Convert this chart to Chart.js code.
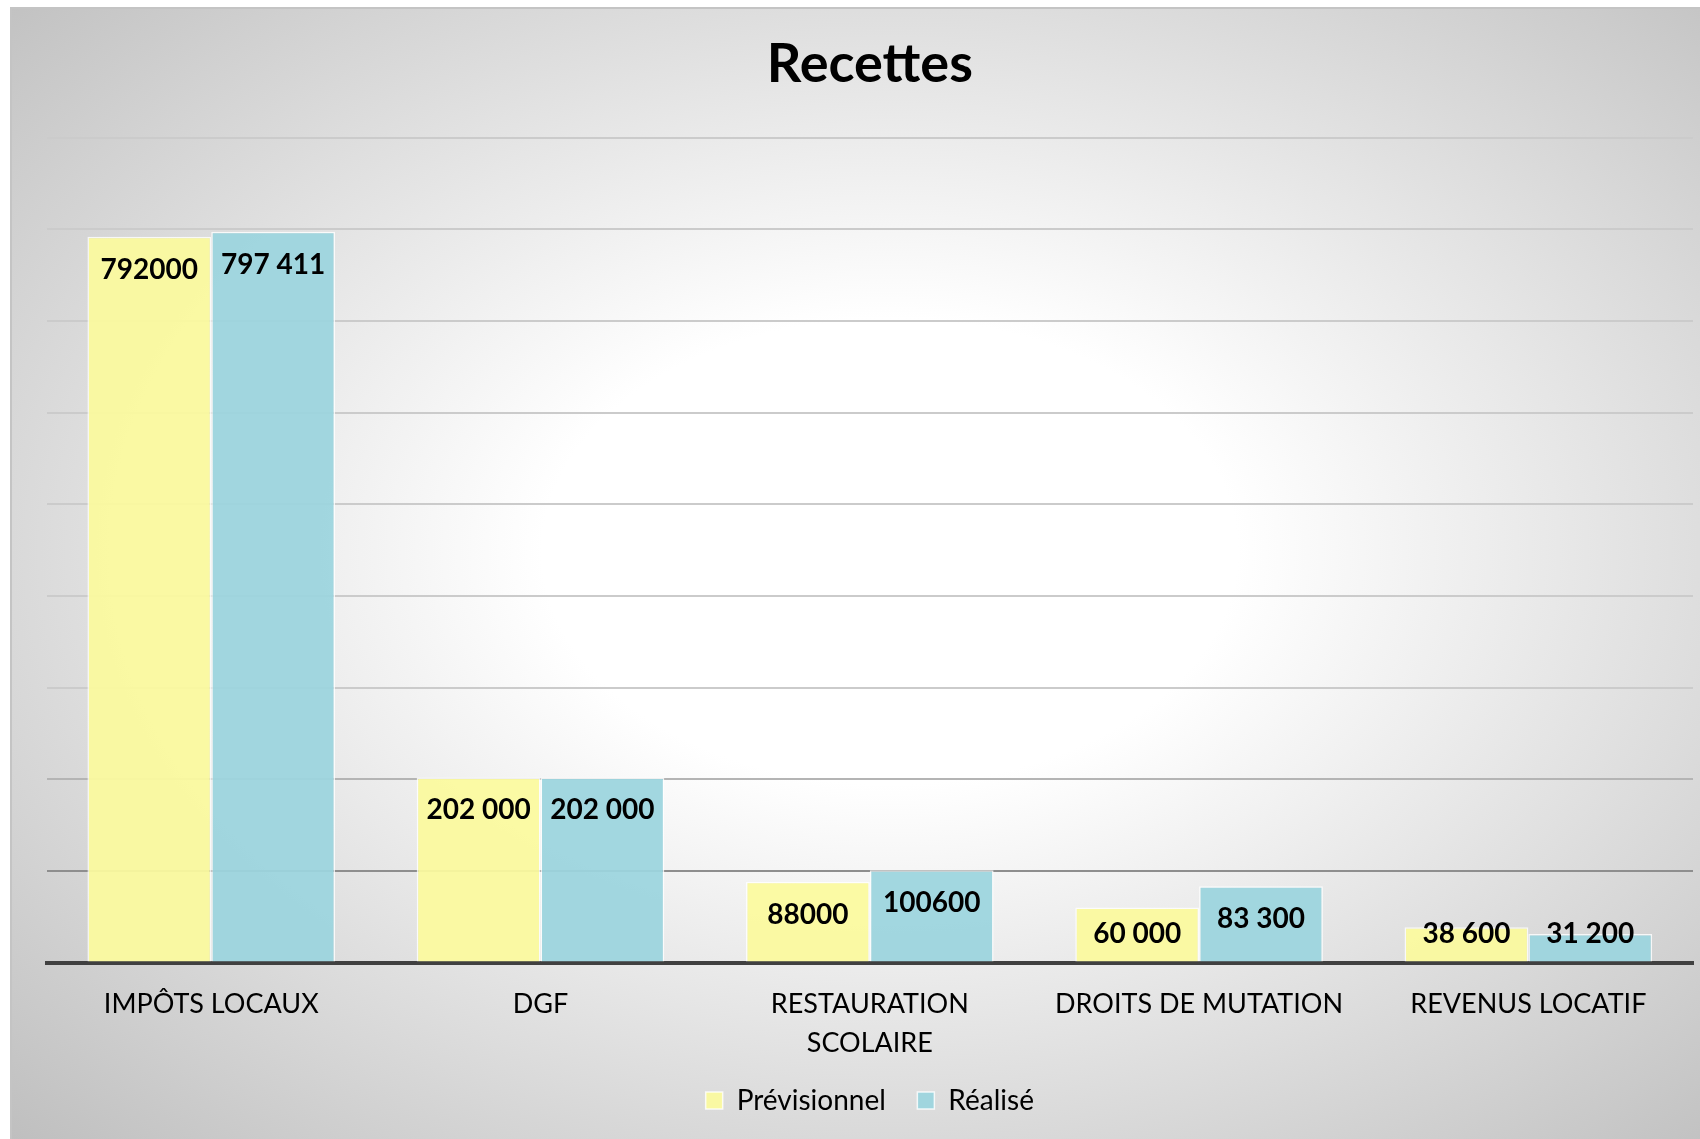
<!DOCTYPE html>
<html lang="fr">
<head>
<meta charset="utf-8">
<title>Recettes</title>
<script src="https://cdn.jsdelivr.net/npm/chart.js@4/dist/chart.umd.min.js"></script>
<style>
  html, body { margin: 0; padding: 0; background: #ffffff; }
  body { width: 1700px; height: 1139px; position: relative; overflow: hidden; }
  #frame {
    position: absolute; left: 10px; top: 7px; right: 0; bottom: 0;
    border-left: 2px solid #c4c4c4; border-top: 2px solid #c4c4c4;
    background: radial-gradient(ellipse farthest-corner at 52% 48%, #ffffff 0%, #ffffff 28%, #bfbfbf 100%);
  }
  #chart { position: absolute; left: 0; top: 0; }
</style>
</head>
<body>
<div id="frame"></div>
<canvas id="chart" width="1700" height="1139"></canvas>
<script>
// Categories and series
const categories = ['IMPÔTS LOCAUX', 'DGF', ['RESTAURATION', 'SCOLAIRE'], 'DROITS DE MUTATION', 'REVENUS LOCATIF'];
const previsionnel = [792000, 202000, 88000, 60000, 38600];
const realise = [797411, 202000, 100600, 83300, 31200];

// Whether each value label uses a thousands separator
const previsionnelSpaced = [false, true, false, true, true];
const realiseSpaced = [true, true, false, true, true];
const spacedBySeries = [previsionnelSpaced, realiseSpaced];

// Value axis
const yMax = 900000;
const yStep = 100000;

function formatValue(v, spaced) {
  const s = String(v);
  if (!spaced) return s;
  return s.replace(/\B(?=(\d{3})+(?!\d))/g, ' ');
}

Chart.defaults.font.family = 'Lato, "Open Sans", sans-serif';
Chart.defaults.color = '#000000';

// Value labels drawn inside the top of each bar
const valueLabels = {
  id: 'valueLabels',
  afterDatasetsDraw(chart) {
    const ctx = chart.ctx;
    const base = chart.scales.y.getPixelForValue(0);
    ctx.save();
    ctx.font = 'bold 28px Lato, "Open Sans", sans-serif';
    ctx.fillStyle = '#000000';
    ctx.textAlign = 'center';
    ctx.textBaseline = 'middle';
    chart.data.datasets.forEach((ds, di) => {
      chart.getDatasetMeta(di).data.forEach((bar, i) => {
        const y = Math.min(bar.y + 33, base - 29);
        ctx.fillText(formatValue(ds.data[i], spacedBySeries[di][i]), bar.x, y);
      });
    });
    ctx.restore();
  }
};

new Chart(document.getElementById('chart'), {
  type: 'bar',
  data: {
    labels: categories,
    datasets: [
      {
        label: 'Prévisionnel',
        data: previsionnel,
        backgroundColor: 'rgba(251, 250, 158, 0.94)',
        borderColor: 'rgba(255, 255, 255, 0.8)',
        borderWidth: 1.5
      },
      {
        label: 'Réalisé',
        data: realise,
        backgroundColor: 'rgba(156, 212, 222, 0.94)',
        borderColor: 'rgba(255, 255, 255, 0.8)',
        borderWidth: 1.5
      }
    ]
  },
  options: {
    responsive: false,
    animation: false,
    devicePixelRatio: 1,
    categoryPercentage: 0.752,
    barPercentage: 1.0,
    layout: {
      padding: { left: 46.6, right: 7, top: 0, bottom: 14.5 }
    },
    plugins: {
      title: {
        display: true,
        text: 'Recettes',
        font: { size: 54, weight: 'bold' },
        color: '#000000',
        padding: { top: 32.6, bottom: 40.3 }
      },
      legend: {
        display: true,
        position: 'bottom',
        labels: {
          boxWidth: 17,
          boxHeight: 17,
          padding: 31.5,
          font: { size: 28 },
          color: '#000000'
        }
      },
      tooltip: { enabled: false }
    },
    scales: {
      x: {
        grid: { display: false, drawTicks: false },
        border: { display: true, color: '#404040', width: 4 },
        ticks: {
          padding: 22,
          font: { size: 27, lineHeight: 1.44 },
          color: '#000000',
          maxRotation: 0,
          autoSkip: false
        },
        afterFit(axis) {
          axis.height = 92.5;
        }
      },
      y: {
        min: 0,
        max: yMax,
        ticks: { display: false, stepSize: yStep },
        border: { display: false },
        grid: {
          drawTicks: false,
          lineWidth: 2,
          color(ctx) {
            const v = ctx.tick ? ctx.tick.value : 0;
            if (v === 0) return 'rgba(0,0,0,0)';
            if (v === 100000) return '#8e8e8e';
            if (v === 200000) return '#b4b4b4';
            return '#cbcbcb';
          }
        }
      }
    }
  },
  plugins: [valueLabels]
});
</script>
</body>
</html>
